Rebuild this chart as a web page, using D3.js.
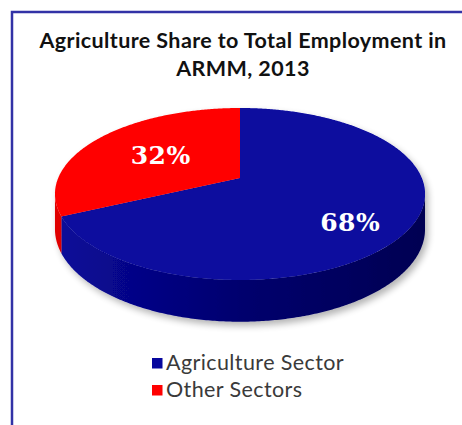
<!DOCTYPE html>
<html>
<head>
<meta charset="utf-8">
<script src="https://cdn.jsdelivr.net/npm/d3@7"></script>
<style>
  body { margin: 0; background: #ffffff; }
  svg { display: block; }
</style>
</head>
<body>
<svg id="chart" width="462" height="425"></svg>
<script>
// ---- data ----
const titleLines = ["Agriculture Share to Total Employment in", "ARMM, 2013"];
const categories = ["Agriculture Sector", "Other Sectors"];
const values = [68, 32];
const topColors = ["#07079e", "#ff0000"];
const sideColors = [["#0a0a9a", "#00006e", "#000052"], ["#e00000", "#c80000", "#a00000"]];

const W = 462, H = 425;
const svg = d3.select("#chart");
const defs = svg.append("defs");

// frame
svg.append("path")
  .attr("d", `M12,${H} V12 H${W}`)
  .attr("fill", "none")
  .attr("stroke", "#3232a6")
  .attr("stroke-width", 2.5);

// title
const title = svg.append("text")
  .attr("text-anchor", "middle")
  .attr("font-family", "Lato, 'Open Sans', sans-serif")
  .attr("font-weight", 700)
  .attr("font-size", 21.5)
  .attr("letter-spacing", 0.4)
  .attr("fill", "#111");
titleLines.forEach((t, i) => {
  title.append("tspan").attr("x", 243).attr("y", 47.5 + i * 28).text(t);
});

// ---- 3D pie: a tilted disc seen in perspective ----
const cx = 240, cy = 178;      // projected centre of the disc
const A = 181.8, B = 83;       // horizontal / vertical radius factors
const k = 0.186;               // perspective strength
const depth = 34;              // thickness of the disc

function proj(angle, r, drop) {
  const X = r * Math.sin(angle), Y = -r * Math.cos(angle);
  const s = 1 / (1 - k * Y);
  return [cx + A * X * s, cy + B * Y * s + drop * depth * s];
}
function arcPoints(a0, a1, r, drop) {
  const n = Math.max(2, Math.ceil(Math.abs(a1 - a0) / 0.01));
  return d3.range(n + 1).map(i => proj(a0 + (a1 - a0) * i / n, r, drop));
}

const pie = d3.pie().sort(null).value(d => d.value);
const data = categories.map((c, i) => ({ name: c, value: values[i], i }));
const arcs = pie(data);
const line = d3.line();

// soft drop shadow under the disc
const f = defs.append("filter").attr("id", "shadow")
  .attr("x", "-10%").attr("y", "-10%").attr("width", "120%").attr("height", "130%");
f.append("feGaussianBlur").attr("in", "SourceAlpha").attr("stdDeviation", 3.5);
f.append("feOffset").attr("dx", 3).attr("dy", 4).attr("result", "b");
f.append("feComponentTransfer").append("feFuncA").attr("type", "linear").attr("slope", 0.3);
const fm = f.append("feMerge");
fm.append("feMergeNode");
fm.append("feMergeNode").attr("in", "SourceGraphic");

const g = svg.append("g").attr("filter", "url(#shadow)");

// rim shading
sideColors.forEach((cs, i) => {
  const lg = defs.append("linearGradient").attr("id", "side" + i)
    .attr("gradientUnits", "userSpaceOnUse")
    .attr("x1", 55).attr("y1", 0).attr("x2", 425).attr("y2", 0);
  lg.append("stop").attr("offset", "0%").attr("stop-color", cs[0]);
  lg.append("stop").attr("offset", "50%").attr("stop-color", cs[1]);
  lg.append("stop").attr("offset", "100%").attr("stop-color", cs[2]);
});

// visible part of the rim lies between the two silhouette extremes
const aRight = Math.acos(-k), aLeft = 2 * Math.PI - Math.acos(-k);
arcs.forEach(d => {
  const a0 = Math.max(d.startAngle, aRight), a1 = Math.min(d.endAngle, aLeft);
  if (a1 <= a0) return;
  const pts = arcPoints(a0, a1, 1, 0).concat(arcPoints(a1, a0, 1, 1));
  g.append("path").attr("d", line(pts) + "Z").attr("fill", `url(#side${d.data.i})`);
});

// top faces
arcs.forEach(d => {
  const pts = [proj(0, 0, 0)].concat(arcPoints(d.startAngle, d.endAngle, 1, 0));
  g.append("path").attr("d", line(pts) + "Z").attr("fill", topColors[d.data.i]);
});

// value labels: placed along each slice's mid angle
const labelRadius = [0.67, 0.545];
const labelDrop = [0.32, 0];
arcs.forEach(d => {
  const mid = (d.startAngle + d.endAngle) / 2;
  const [x, y] = proj(mid, labelRadius[d.data.i], labelDrop[d.data.i]);
  svg.append("text")
    .attr("x", x).attr("y", y).attr("dy", "0.36em")
    .attr("text-anchor", "middle")
    .attr("font-family", "'DejaVu Serif', serif")
    .attr("font-weight", 700)
    .attr("font-size", 25)
    .attr("letter-spacing", 0.5)
    .attr("fill", "#ffffff")
    .text(d3.format(".0f")(d.value) + "%");
});

// legend
const legend = svg.append("g").attr("transform", "translate(152,358)");
categories.forEach((c, i) => {
  const row = legend.append("g").attr("transform", `translate(0,${i * 27})`);
  row.append("rect").attr("width", 10.5).attr("height", 10.5).attr("fill", topColors[i]);
  row.append("text").attr("x", 14).attr("y", 12)
    .attr("font-family", "Lato, 'Open Sans', sans-serif")
    .attr("font-size", 21.5)
    .attr("letter-spacing", 0.4)
    .attr("fill", "#3a3a3a")
    .text(c);
});
</script>
</body>
</html>
